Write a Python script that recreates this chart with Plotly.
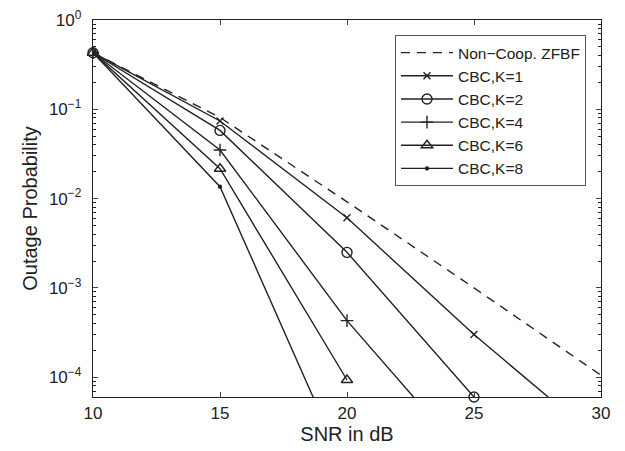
import plotly.graph_objects as go

snr = [10, 15, 20, 25, 30]
noncoop = [0.43, 0.081, 0.0092, 0.00100, 0.000105]
k1 = [0.43, 0.074, 0.0061, 0.00030, 0.000019]
k2 = [0.43, 0.058, 0.0025, 0.00006]
k4 = [0.43, 0.035, 0.00043, 0.00001]
k6 = [0.43, 0.0216, 0.000093]
k8 = [0.43, 0.0136, 0.0000083]

ytick_vals = [1, 0.1, 0.01, 0.001, 0.0001]
ytick_text = ["10<sup>0</sup>", "10<sup>−1</sup>", "10<sup>−2</sup>", "10<sup>−3</sup>", "10<sup>−4</sup>"]
xtick_vals = [10, 15, 20, 25, 30]
minor_vals = [m * 10.0 ** e for e in range(-5, 0) for m in range(2, 10)]

C = "#222222"
fig = go.Figure()
fig.add_trace(go.Scatter(x=snr, y=noncoop, mode="lines", name="Non−Coop. ZFBF",
                         line=dict(color=C, width=1.4, dash="9px,7px")))
series = [
    ("CBC,K=1", k1, "x-thin-open", 7, True),
    ("CBC,K=2", k2, "circle-open", 10, False),
    ("CBC,K=4", k4, "cross-thin-open", 9, True),
    ("CBC,K=6", k6, "triangle-up-open", 10, False),
    ("CBC,K=8", k8, "circle", 3, True),
]
for name, ys, sym, sz, clip in series:
    fig.add_trace(go.Scatter(x=snr[:len(ys)], y=ys, mode="lines+markers", name=name,
                             cliponaxis=clip,
                             line=dict(color=C, width=1.4),
                             marker=dict(symbol=sym, size=sz, color=C,
                                         line=dict(color=C, width=1.4))))

fig.update_layout(
    width=617, height=443,
    margin=dict(l=85, r=24, t=12, b=54),
    paper_bgcolor="white", plot_bgcolor="white",
    font=dict(family="Liberation Sans, Arial, sans-serif", size=16, color="#222"),
    showlegend=True,
    legend=dict(x=0.9705, xanchor="right", y=0.96, yanchor="top",
                bordercolor="#555", borderwidth=1, bgcolor="white",
                font=dict(size=15.5), itemwidth=52, tracegroupgap=0),
)
fig.update_xaxes(range=[10, 30], tickvals=xtick_vals, ticks="inside", ticklen=5,
                 showline=True, linecolor=C, linewidth=1.4, mirror="ticks",
                 showgrid=False, zeroline=False, automargin=False,
                 ticklabeloverflow="allow",
                 title=dict(text="SNR in dB", font=dict(size=20), standoff=4),
                 tickfont=dict(size=17))
fig.update_yaxes(type="log", range=[-4.222, 0], tickvals=ytick_vals, ticktext=ytick_text,
                 ticks="inside", ticklen=5, ticklabelstandoff=7,
                 showline=True, linecolor=C, linewidth=1.4, mirror="ticks",
                 showgrid=False, zeroline=False, automargin=False,
                 ticklabeloverflow="allow",
                 minor=dict(tickvals=minor_vals, ticks="inside", ticklen=3, tickcolor=C, showgrid=False),
                 title=dict(text="Outage Probability", font=dict(size=20), standoff=5),
                 tickfont=dict(size=17))
fig.write_html("out.html")
